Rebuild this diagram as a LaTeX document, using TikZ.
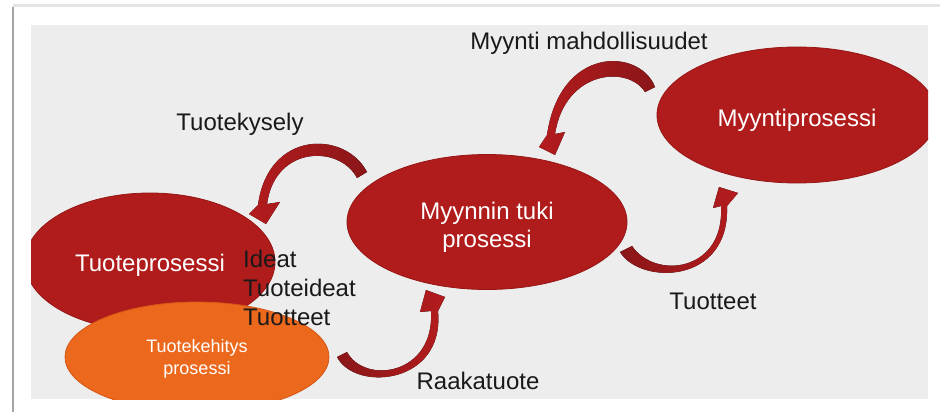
\documentclass[tikz,border=0pt]{standalone}
\usepackage{fontspec}
\setmainfont{Liberation Sans}
\usetikzlibrary{shapes.geometric}

\definecolor{panelgray}{RGB}{237,237,237}
\definecolor{framegray}{RGB}{228,228,228}
\definecolor{frameedge}{RGB}{165,165,165}
\definecolor{procred}{RGB}{176,27,27}
\definecolor{procredline}{RGB}{150,22,22}
\definecolor{devorange}{RGB}{236,104,28}
\definecolor{devorangeline}{RGB}{212,88,22}
\definecolor{arrowred}{RGB}{180,28,30}
\definecolor{arrowdark}{RGB}{138,22,24}
\definecolor{labelink}{RGB}{25,25,25}

\begin{document}
\begin{tikzpicture}[x=1pt,y=-1pt,
  proc/.style={ellipse, inner sep=0pt, fill=procred, draw=procredline,
    line width=0.8pt, text=white, font=\fontsize{24}{28}\selectfont, align=center},
  devproc/.style={ellipse, inner sep=0pt, fill=devorange, draw=devorangeline,
    line width=0.8pt, text=white, font=\fontsize{18}{22}\selectfont, align=center},
  flowlabel/.style={text=labelink, font=\fontsize{24}{29}\selectfont, inner sep=0pt},
  proctext/.style={text=white, font=\fontsize{24}{28}\selectfont, align=center},
  tailright/.style={left color=arrowred, right color=arrowdark, draw=none},
  tailleft/.style={left color=arrowdark, right color=arrowred, draw=none}
]
\useasboundingbox (0,0) rectangle (940,412);
\fill[white] (0,0) rectangle (940,412);

% frame shadow and grey panel
\draw[framegray, line width=3pt] (13,6) -- (940,6);
\draw[frameedge, line width=1.5pt] (13,7) -- (13,412);
\fill[panelgray] (31,25) rectangle (928,399);

% process ellipses, cut off by the panel border
\begin{scope}
  \clip (31,25) rectangle (928,399);
  \node[proc, minimum width=250pt, minimum height=138pt] (tuote) at (150,262) {};
  \node[devproc, minimum width=264pt, minimum height=110pt] (kehitys) at (197,357) {};
  \node[proc, minimum width=280pt, minimum height=135pt] (tuki) at (487,222) {};
  \node[proc, minimum width=280pt, minimum height=136pt] (myynti) at (797,115) {};
\end{scope}

% process names (yshift is in page units: negative moves down)
\node[proctext] at ([yshift=-3]tuote.center) {Tuoteprosessi};
\node[text=white, font=\fontsize{18}{22}\selectfont, align=center] at ([yshift=-2]kehitys.center) {Tuotekehitys\\prosessi};
\node[proctext] at ([yshift=-5]tuki.center) {Myynnin tuki\\prosessi};
\node[proctext] at ([yshift=-5]myynti.center) {Myyntiprosessi};

% curved block arrows
% Tuotekysely: from the support process over the top, down to the product process
\fill[tailright] (367,172) .. controls (345,130) and (268,130) .. (258,205)
  -- (249,214) -- (266,224) -- (280,202) -- (267,204)
  .. controls (275,145) and (340,145) .. (357,178) -- cycle;
% Myynti mahdollisuudet: from the sales process to the support process
\fill[tailright] (655,87) .. controls (640,48) and (560,45) .. (547,135)
  -- (539,147) -- (555,155) -- (565,132) -- (555,134)
  .. controls (565,70) and (628,65) .. (645,92) -- cycle;
% Tuotteet: from the support process under and up to the sales process
\fill[tailleft] (620,252) .. controls (640,285) and (730,285) .. (727,206)
  -- (738,193) -- (719,187) -- (713,208) -- (721,206)
  .. controls (725,272) and (655,280) .. (632,246) -- cycle;
% Raakatuote: from the development process up to the support process
\fill[tailleft] (337,357) .. controls (355,392) and (445,385) .. (438,311)
  -- (445,297) -- (426,290) -- (420,312) -- (431,311)
  .. controls (435,375) and (365,385) .. (347,352) -- cycle;

% flow labels
\node[flowlabel] (lblMyynti) at (589,43) {Myynti mahdollisuudet};
\node[flowlabel] (lblKysely) at (240,124) {Tuotekysely};
\node[flowlabel] (lblTuotteet) at (713,301) {Tuotteet};
\node[flowlabel] (lblRaaka) at (478,381) {Raakatuote};
\node[flowlabel, align=left, anchor=north west] (lblIdeat) at (243,250) {Ideat\\Tuoteideat\\Tuotteet};
\end{tikzpicture}
\end{document}
